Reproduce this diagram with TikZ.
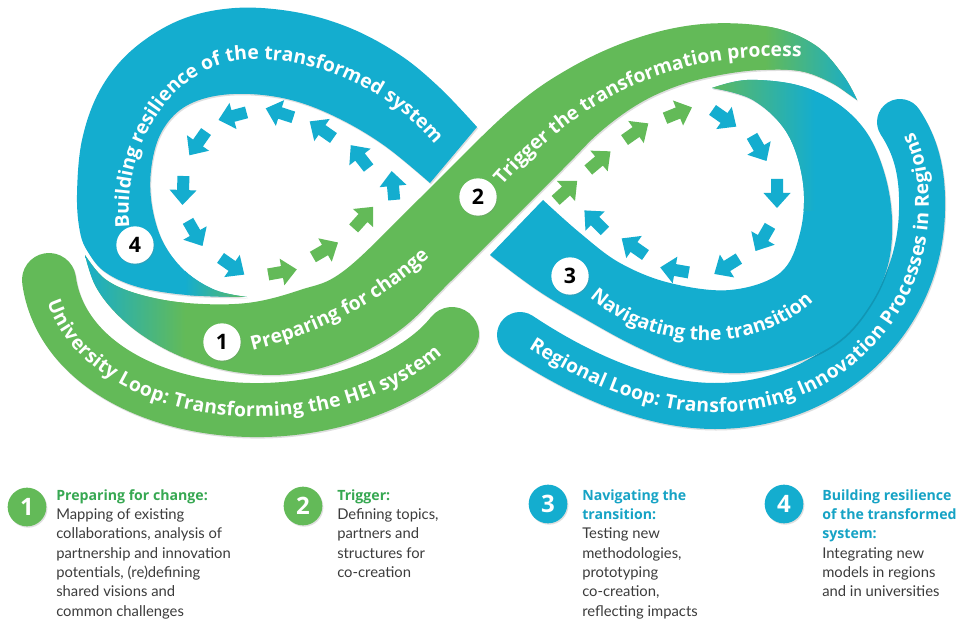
\documentclass[tikz,border=0pt]{standalone}
\usepackage{fontspec}
\setmainfont{Lato}
\newfontfamily\osans{Open Sans}
\usetikzlibrary{decorations.text,shadows}
\definecolor{cblue}{RGB}{20,173,207}
\definecolor{cgreen}{RGB}{99,186,88}
\definecolor{hgreen}{RGB}{55,168,82}
\definecolor{hblue}{RGB}{22,163,197}
\definecolor{bodygray}{RGB}{60,60,60}
\newcommand\bandfont{\osans\fontsize{14.5}{16}\selectfont\bfseries}
\newcommand\headfont{\osans\fontsize{10.6}{14.5}\selectfont\bfseries}
\def\shpA{plot[smooth,tension=0.6] coordinates {(477,127) (440,88) (400,55) (350,28) (295,12) (235,8) (180,20) (132,50) (100,90) (82,140) (77,195) (80,232) (88,252) (105,272) (138,287) (187,295) (247,297)} -- plot[smooth,tension=0.6] coordinates {(247,297) (215,290) (185,271) (163,242) (152,206) (151,170) (160,135) (180,110) (210,97) (250,94) (295,101) (340,119) (385,146) (430,183)} -- cycle}
\def\shpB{plot[smooth,tension=0.6] coordinates {(85,255) (105,279) (138,294) (187,303) (247,303) (300,290) (345,270) (420,198) (508,112) (570,68) (637,38) (703,24) (770,27) (815,45) (843,75) (857,100)} -- plot[smooth,tension=0.6] coordinates {(857,100) (850,95) (830,82) (800,71) (760,70) (720,75) (680,85) (640,103) (600,132) (560,172) (452,280) (400,330) (345,360) (290,374) (235,372) (185,358) (145,337) (115,312) (95,285) (85,255)} -- cycle}
\def\shpC{plot[smooth,tension=0.6] coordinates {(712,88) (747,80) (797,85) (837,103) (867,133) (885,175) (892,220) (888,265) (870,305) (840,340) (795,363) (740,373) (687,367) (637,347) (587,320) (537,290) (490,255)} -- plot[smooth,tension=0.6] coordinates {(543,200) (580,233) (620,263) (670,283) (730,290) (780,273) (800,233) (803,183) (787,133) (753,100) (712,88)} -- cycle}
\def\lnD{(49,280) .. controls (60,360) and (150,408) .. (250,410) .. controls (340,412) and (420,375) .. (452,334)}
\def\lnE{(520,335) .. controls (580,375) and (650,406) .. (715,406) .. controls (830,406) and (920,320) .. (922,210) .. controls (923,170) and (915,145) .. (900,122)}
\tikzset{
  flowarrow/.pic={\path[pic actions] (-14,-6) -- (0,-6) -- (0,-13.5) -- (15,0) -- (0,13.5) -- (0,6) -- (-14,6) -- cycle;},
  bandtext/.style 2 args={decorate, decoration={text along path, text align=center, text color=white, raise=#2, text={|\bandfont|#1}}},
  numcirc/.style={circle, fill=white, minimum size=28pt, inner sep=0pt, text=black, font=\osans\fontsize{16}{16}\selectfont\bfseries, drop shadow={opacity=0.25, shadow xshift=0.5pt, shadow yshift=-0.8pt}},
  bignum/.style={circle, minimum size=29pt, inner sep=0pt, text=white, font=\osans\fontsize{18}{18}\selectfont\bfseries, drop shadow={opacity=0.25, shadow xshift=0.8pt, shadow yshift=-1pt}},
  desc/.style={anchor=north west, inner sep=0pt, align=left, text=bodygray, font=\fontsize{11.1}{14.5}\selectfont},
  shadowfill/.style={black, opacity=0.13, shift={(1,1.5)}}
}
\begin{document}
\begin{tikzpicture}[x=0.75pt,y=-0.75pt]
\fill[white] (0,0) rectangle (969,620);
\useasboundingbox (0,0) rectangle (969,620);
% outer loops
\draw[black, opacity=0.13, line width=40.5pt, line cap=round, shift={(1,1.5)}] \lnD;
\draw[cgreen, line width=40.5pt, line cap=round] \lnD;
\draw[black, opacity=0.13, line width=34.5pt, line cap=round, shift={(1,1.5)}] \lnE;
\draw[cblue, line width=34.5pt, line cap=round] \lnE;
% left loop A
\fill[shadowfill] \shpA;
\fill[cblue] \shpA;
\begin{scope}
  \clip \shpA;
  \shade[left color=cblue, right color=cgreen] (185,255) rectangle (250,305);
\end{scope}
% right loop C
\fill[shadowfill] \shpC;
\fill[cblue] \shpC;
\begin{scope}
  \clip \shpC;
  \shade[left color=cgreen, right color=cblue] (705,60) rectangle (815,210);
\end{scope}
% diagonal band B
\fill[shadowfill] \shpB;
\fill[cgreen] \shpB;
\begin{scope}
  \clip \shpB;
  \shade[left color=cblue, right color=cgreen] (80,240) rectangle (185,380);
  \shade[left color=cgreen, right color=cblue] (765,0) rectangle (860,120);
\end{scope}
% band texts
\path[bandtext={Building resilience of the transformed system}{0pt}] (130,232) .. controls (120,150) and (170,65) .. (245,60) .. controls (320,55) and (395,95) .. (438,148);
\path[bandtext={Preparing for change}{0pt}] (245,352) .. controls (320,335) and (385,300) .. (435,252);
\path[bandtext={Trigger the transformation process}{0pt}] (503,185) .. controls (570,110) and (660,50) .. (800,57);
\path[bandtext={Navigating the transition}{0pt}] (586,294) .. controls (650,355) and (760,355) .. (817,298);
\path[bandtext={University Loop: Transforming the HEI system}{-5pt}] \lnD;
\path[bandtext={Regional Loop: Transforming Innovation Processes in Regions}{-5pt}] \lnE;
% left ring arrows
\pic[fill=cgreen, rotate=10] at (282,272) {flowarrow};
\pic[fill=cgreen, rotate=30] at (325,250) {flowarrow};
\pic[fill=cgreen, rotate=48] at (363,218) {flowarrow};
\pic[fill=cblue, rotate=95] at (393,186) {flowarrow};
\pic[fill=cblue, rotate=128] at (360,157) {flowarrow};
\pic[fill=cblue, rotate=145] at (322,130) {flowarrow};
\pic[fill=cblue, rotate=162] at (280,113) {flowarrow};
\pic[fill=cblue, rotate=195] at (233,116) {flowarrow};
\pic[fill=cblue, rotate=235] at (198,143) {flowarrow};
\pic[fill=cblue, rotate=268] at (183,190) {flowarrow};
\pic[fill=cblue, rotate=300] at (195,233) {flowarrow};
\pic[fill=cblue, rotate=325] at (232,266) {flowarrow};
% right ring arrows
\pic[fill=cgreen, rotate=42] at (566,191) {flowarrow};
\pic[fill=cgreen, rotate=40] at (599,161) {flowarrow};
\pic[fill=cgreen, rotate=35] at (636,132) {flowarrow};
\pic[fill=cgreen, rotate=22] at (678,113) {flowarrow};
\pic[fill=cblue, rotate=-35] at (724,118) {flowarrow};
\pic[fill=cblue, rotate=-60] at (759,148) {flowarrow};
\pic[fill=cblue, rotate=-90] at (777,193) {flowarrow};
\pic[fill=cblue, rotate=-120] at (763,238) {flowarrow};
\pic[fill=cblue, rotate=-148] at (727,266) {flowarrow};
\pic[fill=cblue, rotate=170] at (675,270) {flowarrow};
\pic[fill=cblue, rotate=145] at (634,247) {flowarrow};
\pic[fill=cblue, rotate=135] at (595,221) {flowarrow};
% number circles on bands
\node[numcirc] (n4) at (135,245) {4};
\node[numcirc] (n1) at (222,342) {1};
\node[numcirc] (n2) at (478,197) {2};
\node[numcirc] (n3) at (570,276) {3};
% legend
\node[bignum, fill=cgreen] (b1) at (27,507) {1};
\node[bignum, fill=cgreen] (b2) at (303,506) {2};
\node[bignum, fill=cblue] (b3) at (548,504) {3};
\node[bignum, fill=cblue] (b4) at (784,504) {4};
\node[desc] (d1) at (56,489) {{\color{hgreen}\headfont Preparing for change:}\\Mapping of existing\\collaborations, analysis of\\partnership and innovation\\potentials, (re)defining\\shared visions and\\common challenges};
\node[desc] (d2) at (337,489) {{\color{hgreen}\headfont Trigger:}\\Defining topics,\\partners and\\structures for\\co-creation};
\node[desc] (d3) at (582,489) {{\color{hblue}\headfont Navigating the}\\{\color{hblue}\headfont transition:}\\Testing new\\methodologies,\\prototyping\\co-creation,\\reflecting impacts};
\node[desc] (d4) at (822,489) {{\color{hblue}\headfont Building resilience}\\{\color{hblue}\headfont of the transformed}\\{\color{hblue}\headfont system:}\\Integrating new\\models in regions\\and in universities};
\end{tikzpicture}
\end{document}
